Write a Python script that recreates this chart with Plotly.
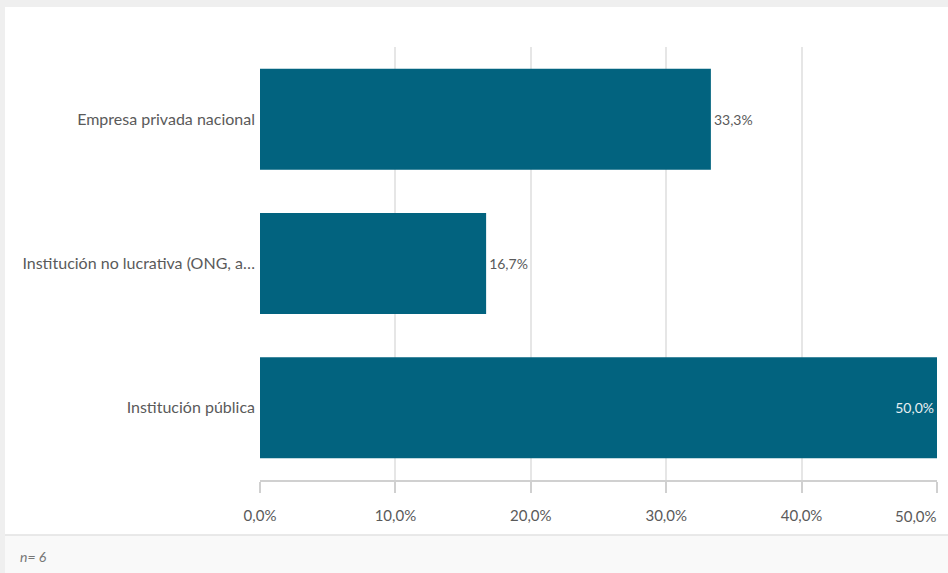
import plotly.graph_objects as go

categories = ["Empresa privada nacional", "Institución no lucrativa (ONG, a…", "Institución pública"]
values = [33.3, 16.7, 50.0]
tick_vals = [0, 10, 20, 30, 40, 50]
tick_text = ["0,0%", "10,0%", "20,0%", "30,0%", "40,0%", "50,0%"]
note = "n= 6"

W, H = 948, 573
L, R, T, B = 260, 11, 47, 93
pw, ph = W - L - R, H - T - B

def px(x):
    return (x - L) / pw

def py(y):
    return (H - B - y) / ph

bar_color = "#02637f"
text_grey = "#5a5a5a"

positions = ["inside" if v >= max(values) else "outside" for v in values]
tcolors = ["#e8eef2" if p == "inside" else text_grey for p in positions]

fig = go.Figure(go.Bar(
    x=values, y=categories, orientation="h",
    marker=dict(color=bar_color, line=dict(width=0)),
    width=0.7,
    texttemplate="%{x:.1f}%",
    textposition=positions,
    insidetextanchor="end",
    textfont=dict(color=tcolors, size=14, family="Lato"),
    cliponaxis=False,
    hoverinfo="skip",
))

shapes = [
    dict(type="rect", xref="paper", yref="paper", x0=px(0), x1=px(W), y0=py(0), y1=py(7),
         fillcolor="#efefef", line=dict(width=0), layer="below"),
    dict(type="rect", xref="paper", yref="paper", x0=px(0), x1=px(5), y0=py(0), y1=py(H),
         fillcolor="#efefef", line=dict(width=0), layer="below"),
    dict(type="rect", xref="paper", yref="paper", x0=px(5), x1=px(W), y0=py(535), y1=py(H),
         fillcolor="#f9f9f9", line=dict(width=0), layer="below"),
    dict(type="line", xref="paper", yref="paper", x0=px(5), x1=px(W), y0=py(535), y1=py(535),
         line=dict(color="#e2e2e2", width=1.5), layer="below"),
]

# last tick label is drawn right-aligned to stay inside the card
shown_text = tick_text[:-1] + [""]
annotations = [
    dict(text="<i>" + note + "</i>", xref="paper", yref="paper",
         x=px(18), y=py(556), xanchor="left", yanchor="middle",
         showarrow=False, font=dict(size=14, color="#777777", family="Lato")),
    dict(text=tick_text[-1], xref="x", yref="paper",
         x=tick_vals[-1], y=py(516), xanchor="right", yanchor="middle", xshift=2,
         showarrow=False, font=dict(size=15, color=text_grey, family="Lato")),
]

fig.update_layout(
    width=W, height=H,
    margin=dict(l=L, r=R, t=T, b=B),
    paper_bgcolor="white", plot_bgcolor="white",
    showlegend=False,
    font=dict(family="Lato", size=16, color=text_grey),
    shapes=shapes,
    annotations=annotations,
    separators=", ",
)
fig.update_xaxes(
    range=[0, 50], tickvals=tick_vals, ticktext=shown_text,
    showgrid=True, gridcolor="#e6e6e6", gridwidth=1.5,
    zeroline=False, showline=True, linecolor="#d0d0d0", linewidth=1.5,
    ticks="outside", ticklen=11, tickcolor="#d0d0d0", tickwidth=1.5,
    tickfont=dict(size=15, color=text_grey), ticklabelstandoff=10,
)
fig.update_yaxes(
    autorange="reversed", showgrid=False, zeroline=False, showline=False,
    ticks="", tickfont=dict(size=16, color=text_grey), ticklabelstandoff=4,
)

fig.write_html("out.html", config={"displayModeBar": False},
               post_script="document.body.style.margin='0';document.body.style.padding='0';")
